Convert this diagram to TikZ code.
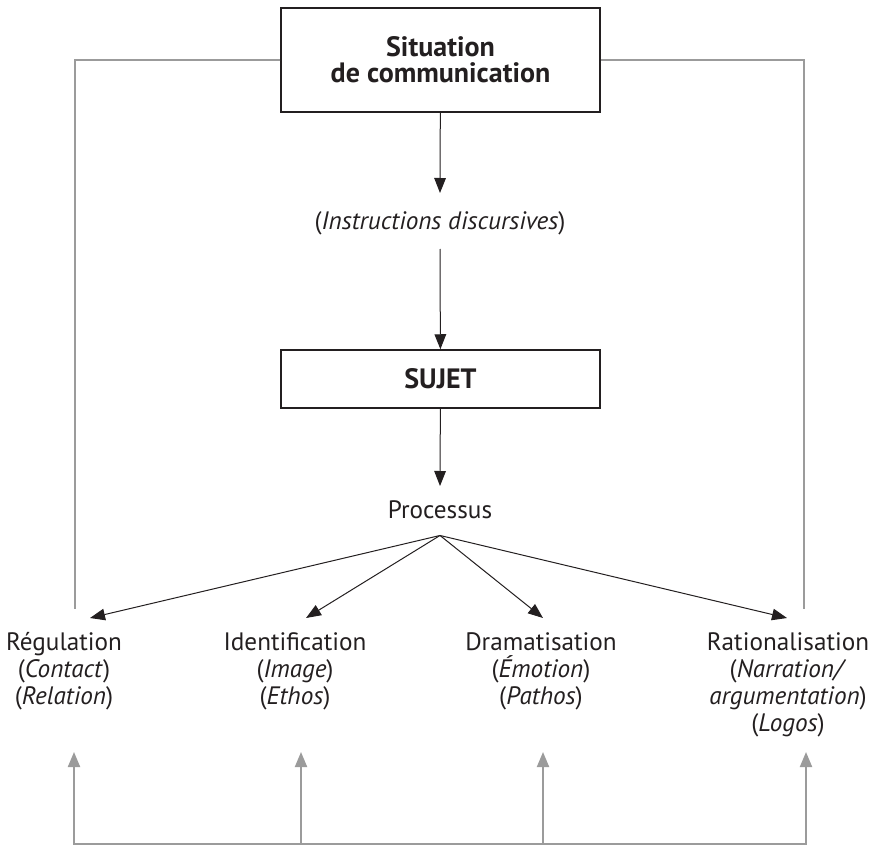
\documentclass[tikz,border=0pt]{standalone}
\usepackage{fontspec}
\setmainfont{PT Sans}
\usetikzlibrary{positioning,calc,arrows.meta}
\definecolor{ink}{HTML}{231F20}
\definecolor{greyline}{HTML}{9B9B9B}
\tikzset{
  box/.style={draw=ink,line width=0.75pt,minimum width=159.5pt,align=center,
    font=\fontsize{14}{13}\selectfont\bfseries,text=ink},
  lbl/.style={align=center,font=\fontsize{12.6}{13.5}\selectfont,text=ink,
    anchor=north,inner xsep=2pt,inner ysep=7pt},
  blk/.style={draw=ink,line width=0.5pt,-{Triangle[length=7.5pt,width=5.8pt]}},
  gry/.style={draw=greyline,line width=1pt},
  gryarrow/.style={gry,-{Triangle[length=7.5pt,width=6pt]}}
}
\begin{document}
\begin{tikzpicture}[x=0.5pt,y=-0.5pt]
\useasboundingbox (0,0) rectangle (871,845);
%boxes and texts down the middle
\node[box,minimum height=52pt] (sit) at (440.5,60) {Situation\\de communication};
\node[lbl,anchor=center,inner ysep=2pt] (instr) at (440,223) {(\textit{Instructions discursives})};
\node[box,minimum height=29pt] (sujet) at (440.5,379) {SUJET};
\node[lbl,anchor=center,inner ysep=2pt] (proc) at (440,510) {Processus};
\coordinate[below=6pt of proc] (fan);
%the four processes
\node[lbl] (reg) at (64,618) {Régulation\\(\textit{Contact})\\(\textit{Relation})};
\node[lbl] (ide) at (295,618) {Identification\\(\textit{Image})\\(\textit{Ethos})};
\node[lbl] (dra) at (541,618) {Dramatisation\\(\textit{Émotion})\\(\textit{Pathos})};
\node[lbl] (rat) at (788,618) {Rationalisation\\(\textit{Narration/}\\\textit{argumentation})\\(\textit{Logos})};
%black arrows
\draw[blk] (sit) -- (instr.north |- 0,193);
\draw[blk] (instr.south |- 0,249) -- (sujet);
\draw[blk] (sujet) -- (proc.north |- 0,486);
\draw[blk] (fan) -- ([xshift=13pt]reg.north);
\draw[blk] (fan) -- ([xshift=5.5pt]ide.north);
\draw[blk] (fan) -- ([xshift=1pt]dra.north);
\draw[blk] (fan) -- ([xshift=-0.5pt]rat.north);
%grey frame from the situation
\coordinate (lend) at (75,609);
\coordinate (rend) at (804,609);
\draw[gry] (sit.west) -| (lend);
\draw[gry] (sit.east) -| (rend);
%grey feedback arrows
\coordinate (b1) at (74,844);
\coordinate (b2) at (301,844);
\coordinate (b3) at (543,844);
\coordinate (b4) at (806,844);
\coordinate (t1) at (74,752);
\coordinate (t2) at (301,752);
\coordinate (t3) at (543,752);
\coordinate (t4) at (806,752);
\draw[gry,{Triangle[length=7.5pt,width=6pt]}-{Triangle[length=7.5pt,width=6pt]}] (t1) |- (b4) -- (t4);
\draw[gryarrow] (b2) -- (t2);
\draw[gryarrow] (b3) -- (t3);
\end{tikzpicture}
\end{document}
